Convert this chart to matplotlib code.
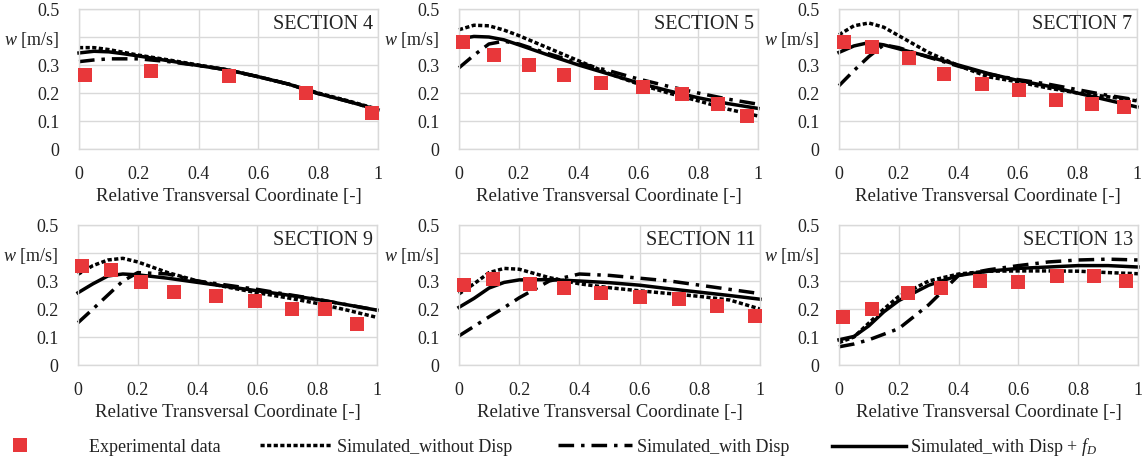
import matplotlib
matplotlib.use("Agg")
import matplotlib.pyplot as plt
from matplotlib.lines import Line2D

plt.rcParams['font.family'] = ['Liberation Serif', 'DejaVu Serif']
plt.rcParams['mathtext.fontset'] = 'custom'
plt.rcParams['mathtext.rm'] = 'Liberation Serif'
plt.rcParams['mathtext.it'] = 'Liberation Serif:italic'

# ---------------- data ----------------
SECTIONS = ["SECTION 4", "SECTION 5", "SECTION 7", "SECTION 9", "SECTION 11", "SECTION 13"]
SIM_X = [0, 0.05, 0.1, 0.15, 0.2, 0.3, 0.4, 0.5, 0.6, 0.7, 0.8, 0.9, 1.0]

s4_exp_x = [0.02, 0.24, 0.50, 0.76, 0.98]
s4_exp_y = [0.264, 0.277, 0.262, 0.199, 0.129]
s4_nodisp = [0.362, 0.362, 0.355, 0.345, 0.335, 0.318, 0.300, 0.282, 0.258, 0.232, 0.200, 0.172, 0.142]
s4_disp = [0.312, 0.318, 0.322, 0.322, 0.322, 0.312, 0.298, 0.282, 0.258, 0.232, 0.198, 0.170, 0.140]
s4_dispfd = [0.343, 0.349, 0.347, 0.340, 0.332, 0.315, 0.298, 0.282, 0.258, 0.232, 0.198, 0.170, 0.140]

s5_exp_x = [0.014, 0.118, 0.234, 0.35, 0.474, 0.617, 0.747, 0.865, 0.964]
s5_exp_y = [0.381, 0.337, 0.300, 0.264, 0.237, 0.223, 0.196, 0.162, 0.119]
s5_nodisp = [0.426, 0.442, 0.440, 0.425, 0.405, 0.360, 0.315, 0.270, 0.232, 0.200, 0.172, 0.142, 0.118]
s5_disp = [0.290, 0.335, 0.375, 0.385, 0.375, 0.340, 0.307, 0.280, 0.250, 0.224, 0.200, 0.178, 0.160]
s5_dispfd = [0.393, 0.402, 0.400, 0.390, 0.372, 0.335, 0.300, 0.268, 0.236, 0.208, 0.183, 0.162, 0.145]

s7_exp_x = [0.016, 0.11, 0.234, 0.354, 0.479, 0.603, 0.728, 0.85, 0.955]
s7_exp_y = [0.381, 0.363, 0.324, 0.269, 0.233, 0.210, 0.175, 0.161, 0.150]
s7_nodisp = [0.408, 0.440, 0.450, 0.435, 0.405, 0.345, 0.298, 0.258, 0.240, 0.218, 0.200, 0.187, 0.172]
s7_disp = [0.226, 0.280, 0.330, 0.372, 0.362, 0.328, 0.296, 0.268, 0.248, 0.232, 0.212, 0.192, 0.175]
s7_dispfd = [0.345, 0.368, 0.380, 0.372, 0.358, 0.330, 0.300, 0.270, 0.245, 0.225, 0.200, 0.175, 0.150]

s9_exp_x = [0.014, 0.112, 0.21, 0.322, 0.463, 0.591, 0.717, 0.827, 0.932]
s9_exp_y = [0.355, 0.339, 0.298, 0.261, 0.246, 0.230, 0.199, 0.199, 0.145]
s9_nodisp = [0.324, 0.355, 0.375, 0.381, 0.368, 0.330, 0.300, 0.278, 0.258, 0.240, 0.220, 0.196, 0.170]
s9_disp = [0.151, 0.200, 0.250, 0.300, 0.330, 0.325, 0.300, 0.285, 0.270, 0.252, 0.235, 0.215, 0.196]
s9_dispfd = [0.258, 0.290, 0.318, 0.325, 0.322, 0.310, 0.295, 0.280, 0.265, 0.250, 0.234, 0.215, 0.196]

s11_exp_x = [0.017, 0.114, 0.236, 0.348, 0.472, 0.60, 0.731, 0.856, 0.985]
s11_exp_y = [0.285, 0.308, 0.289, 0.275, 0.257, 0.242, 0.234, 0.209, 0.174]
s11_nodisp = [0.254, 0.290, 0.330, 0.345, 0.342, 0.312, 0.290, 0.276, 0.265, 0.255, 0.245, 0.232, 0.200]
s11_disp = [0.104, 0.138, 0.172, 0.205, 0.240, 0.300, 0.325, 0.320, 0.310, 0.300, 0.285, 0.270, 0.255]
s11_dispfd = [0.206, 0.238, 0.275, 0.295, 0.304, 0.305, 0.300, 0.294, 0.285, 0.272, 0.260, 0.248, 0.235]

s13_exp_x = [0.014, 0.11, 0.231, 0.342, 0.473, 0.599, 0.73, 0.852, 0.961]
s13_exp_y = [0.173, 0.199, 0.258, 0.275, 0.301, 0.298, 0.318, 0.318, 0.300]
s13_nodisp = [0.080, 0.100, 0.150, 0.200, 0.245, 0.300, 0.325, 0.335, 0.336, 0.336, 0.335, 0.330, 0.326]
s13_disp = [0.065, 0.075, 0.090, 0.110, 0.130, 0.215, 0.320, 0.340, 0.355, 0.368, 0.375, 0.378, 0.375]
s13_dispfd = [0.090, 0.102, 0.140, 0.190, 0.230, 0.285, 0.320, 0.335, 0.345, 0.350, 0.355, 0.355, 0.350]

X_TICKS = [0, 0.2, 0.4, 0.6, 0.8, 1]
X_TICKLABELS = ["0", "0.2", "0.4", "0.6", "0.8", "1"]
Y_TICKS = [0, 0.1, 0.2, 0.3, 0.4, 0.5]
Y_TICKLABELS = ["0", "0.1", "0.2", "0.3", r"$\mathit{w}$ [m/s]", "0.5"]
LEGEND_LABELS = ["Experimental data", "Simulated_without Disp", "Simulated_with Disp",
                 r"Simulated_with Disp + $\mathit{f}_{\mathit{D}}$"]

exp_data = [(s4_exp_x, s4_exp_y), (s5_exp_x, s5_exp_y), (s7_exp_x, s7_exp_y),
            (s9_exp_x, s9_exp_y), (s11_exp_x, s11_exp_y), (s13_exp_x, s13_exp_y)]
sim_nodisp = [s4_nodisp, s5_nodisp, s7_nodisp, s9_nodisp, s11_nodisp, s13_nodisp]
sim_disp = [s4_disp, s5_disp, s7_disp, s9_disp, s11_disp, s13_disp]
sim_dispfd = [s4_dispfd, s5_dispfd, s7_dispfd, s9_dispfd, s11_dispfd, s13_dispfd]

# ---------------- styles ----------------
W, H = 1146, 463
RED = '#e8373a'
GRID = '#d9d9d9'
DOT = (0, (1.2, 0.7))
DASHDOT = (0, (4.5, 2.0, 1.0, 2.0))
LW = 2.5

fig = plt.figure(figsize=(W / 100, H / 100), dpi=100)

# axes boxes in pixels: (left, top, right, bottom)
boxes = [(79, 9, 378, 149), (459, 9, 758, 149), (839, 9, 1137, 149),
         (78, 225, 377, 365), (459, 225, 760, 365), (839, 225, 1138, 365)]

for i, (l, t, r, b) in enumerate(boxes):
    ax = fig.add_axes([l / W, 1 - b / H, (r - l) / W, (b - t) / H])
    ax.set_xlim(0, 1)
    ax.set_ylim(0, 0.5)
    ax.set_xticks(X_TICKS)
    ax.set_xticklabels(X_TICKLABELS)
    ax.set_yticks(Y_TICKS)
    ax.set_yticklabels(Y_TICKLABELS)
    ax.tick_params(length=0, labelsize=13, colors='#222222')
    ax.tick_params(axis='y', pad=14)
    ax.tick_params(axis='x', pad=12)
    ax.grid(True, color=GRID, lw=1.0)
    ax.set_axisbelow(True)
    for s in ax.spines.values():
        s.set_color(GRID)
        s.set_linewidth(1.0)
    ax.plot(SIM_X, sim_nodisp[i], color='black', lw=LW, linestyle=DOT, clip_on=False,
            dash_capstyle='butt')
    ax.plot(SIM_X, sim_disp[i], color='black', lw=LW, linestyle=DASHDOT, clip_on=False,
            dash_capstyle='butt')
    ax.plot(SIM_X, sim_dispfd[i], color='black', lw=LW, linestyle='-', clip_on=False)
    ex, ey = exp_data[i]
    ax.plot(ex, ey, linestyle='none', marker='s', markersize=9.5, color=RED,
            markeredgewidth=0, zorder=5, clip_on=False)
    ax.text(0.985, 0.96, SECTIONS[i], transform=ax.transAxes, ha='right', va='top',
            fontsize=14.5, color='#222222')
    ax.set_xlabel("Relative Transversal Coordinate [-]", fontsize=13.5, color='#222222',
                  labelpad=3.5)

# ---------------- legend ----------------
handles = [
    Line2D([], [], linestyle='none', marker='s', markersize=9.5, color=RED, markeredgewidth=0),
    Line2D([], [], color='black', lw=LW, linestyle=DOT),
    Line2D([], [], color='black', lw=LW, linestyle=DASHDOT),
    Line2D([], [], color='black', lw=LW, linestyle='-'),
]
leg_x = [11, 260, 558, 832]
leg_hl = [1.0, 4.0, 4.1, 4.1]
leg_pad = [3.3, 0.28, 0.25, 0.2]
leg_y = 1 - 447 / H
for h, lab, x, hl, tp in zip(handles, LEGEND_LABELS, leg_x, leg_hl, leg_pad):
    lg = fig.legend([h], [lab], loc='center left', bbox_to_anchor=(x / W, leg_y),
                    frameon=False, fontsize=13, handlelength=hl, handletextpad=tp,
                    borderpad=0, borderaxespad=0, numpoints=1)
    for t in lg.get_texts():
        t.set_color('#222222')

fig.savefig("out.png", dpi=100)
